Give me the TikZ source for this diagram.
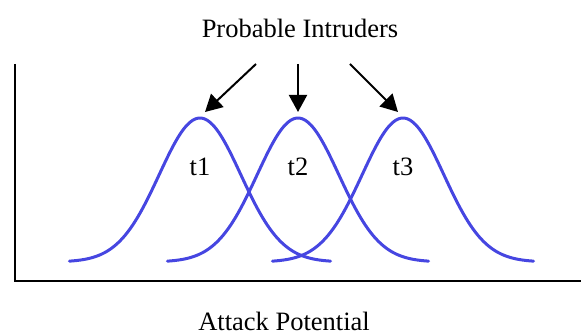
\documentclass[tikz,border=0pt]{standalone}
\usepackage{fontspec}
\setmainfont{Liberation Serif}
\usepackage{tikz}
\usetikzlibrary{arrows.meta, positioning, calc}
\definecolor{mydark}{RGB}{0,0,0}
\definecolor{myblue}{RGB}{70,70,225}
\tikzset{
  axis/.style={line width=2.6pt, color=mydark},
  curve/.style={line width=3pt, color=myblue, line cap=round},
  arrow/.style={-{Triangle[length=17pt, width=18pt]}, line width=2pt, color=mydark},
  label/.style={font=\fontsize{26.5}{30}\selectfont, inner sep=0pt}
}

\begin{document}
\begin{tikzpicture}[x=1pt, y=-1pt]
  \useasboundingbox (0,0) rectangle (581,336);

  % axes
  \coordinate (top) at (15,64);
  \coordinate (origin) at (15,281);
  \coordinate (right) at (581,281);
  \draw[axis] (top) -- (origin) -- (right);

  % intruder curves
  \foreach \p/\n in {200/1, 298/2, 403/3} {
    \draw[curve] plot[domain=-3.2:3.2, samples=90, smooth]
      ({\p+40.8*\x}, {262-144*exp(-\x*\x/2)});
    \node[label] (t\n) at (\p,167) {t\n};
  }

  % labels
  \node[label] (title) at (300,28) {Probable Intruders};
  \node[label] (xlabel) at (284,321) {Attack Potential};

  % arrows
  \coordinate (from1) at (256,64);
  \coordinate (from2) at (298,64);
  \coordinate (from3) at (350,64);
  \coordinate (tip1) at (205,112);
  \coordinate (tip2) at (298,112);
  \coordinate (tip3) at (398,112);
  \draw[arrow] (from1) -- (tip1);
  \draw[arrow] (from2) -- (tip2);
  \draw[arrow] (from3) -- (tip3);
\end{tikzpicture}
\end{document}
